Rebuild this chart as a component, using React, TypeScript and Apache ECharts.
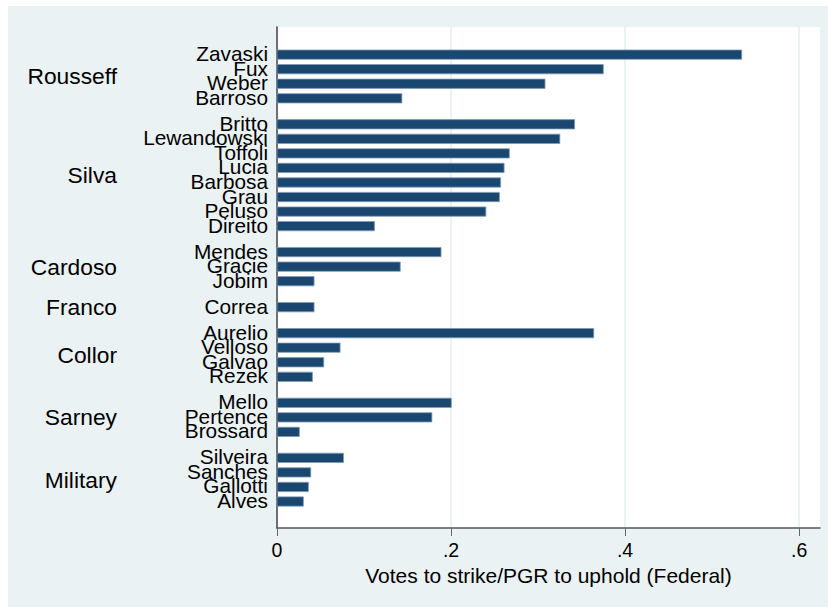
import React, { useEffect, useRef } from "react";
import * as echarts from "echarts";

// Appointing presidents, top to bottom
const presidents = ["Rousseff", "Silva", "Cardoso", "Franco", "Collor", "Sarney", "Military"];

// Justices appointed by each president
const rousseffJustices = ["Zavaski", "Fux", "Weber", "Barroso"];
const silvaJustices = ["Britto", "Lewandowski", "Toffoli", "Lucia", "Barbosa", "Grau", "Peluso", "Direito"];
const cardosoJustices = ["Mendes", "Gracie", "Jobim"];
const francoJustices = ["Correa"];
const collorJustices = ["Aurelio", "Velloso", "Galvao", "Rezek"];
const sarneyJustices = ["Mello", "Pertence", "Brossard"];
const militaryJustices = ["Silveira", "Sanches", "Gallotti", "Alves"];

// Share of votes to strike / PGR to uphold (federal laws)
const rousseffVotes = [0.534, 0.375, 0.308, 0.1435];
const silvaVotes = [0.342, 0.325, 0.267, 0.261, 0.257, 0.2556, 0.24, 0.112];
const cardosoVotes = [0.1885, 0.1416, 0.0426];
const francoVotes = [0.0426];
const collorVotes = [0.364, 0.0725, 0.0537, 0.0407];
const sarneyVotes = [0.2003, 0.178, 0.0257];
const militaryVotes = [0.0764, 0.0388, 0.0361, 0.0303];

const xTicks = [0, 0.2, 0.4, 0.6];
const xTitle = "Votes to strike/PGR to uphold (Federal)";

const justiceGroups = [
  rousseffJustices,
  silvaJustices,
  cardosoJustices,
  francoJustices,
  collorJustices,
  sarneyJustices,
  militaryJustices,
];
const voteGroups = [
  rousseffVotes,
  silvaVotes,
  cardosoVotes,
  francoVotes,
  collorVotes,
  sarneyVotes,
  militaryVotes,
];

const GROUP_GAP = 0.785; // extra space between president groups, in bar slots
const FONT = "'Liberation Sans', Arial, Helvetica, sans-serif";
const BAR = "#1A476F";

function buildRows() {
  const bars: [number, number, string][] = [];
  const groups: [number, string][] = [];
  let k = 0;
  justiceGroups.forEach((names, gi) => {
    const first = k + gi * GROUP_GAP;
    names.forEach((n, j) => {
      bars.push([voteGroups[gi][j], k + gi * GROUP_GAP, n]);
      k += 1;
    });
    const last = k - 1 + gi * GROUP_GAP;
    groups.push([(first + last) / 2, presidents[gi]]);
  });
  return { bars, groups, lastPos: k - 1 + (justiceGroups.length - 1) * GROUP_GAP };
}

export default function App() {
  const ref = useRef<HTMLDivElement>(null);

  useEffect(() => {
    if (!ref.current) return;
    const chart = echarts.init(ref.current, null, { renderer: "svg" });
    const { bars, groups, lastPos } = buildRows();

    chart.setOption({
      animation: false,
      backgroundColor: "#EAF2F3",
      grid: {
        left: 269,
        right: 8,
        top: 21,
        bottom: 79,
        show: true,
        backgroundColor: "#FFFFFF",
        borderWidth: 0,
      },
      xAxis: {
        type: "value",
        min: 0,
        max: 0.624,
        interval: 0.2,
        name: xTitle,
        nameLocation: "middle",
        nameGap: 35,
        nameTextStyle: { fontFamily: FONT, fontSize: 21, color: "#000" },
        axisLine: { show: true, onZero: false, lineStyle: { color: "#555", width: 1.5 } },
        axisTick: {
          show: true,
          length: 8,
          customValues: xTicks,
          lineStyle: { color: "#666", width: 1 },
        },
        axisLabel: {
          customValues: xTicks,
          margin: 12,
          fontFamily: FONT,
          fontSize: 19.5,
          color: "#000",
          formatter: (v: number) => (v === 0 ? "0" : String(Number(v.toFixed(2))).replace(/^0/, "")),
        },
        splitLine: { show: true, lineStyle: { color: "#E6EEF1", width: 1.5 } },
      },
      yAxis: {
        type: "value",
        inverse: true,
        min: -1.9,
        max: lastPos + 1.82,
        axisLine: { show: true, onZero: false, lineStyle: { color: "#444", width: 1.5 } },
        axisTick: { show: false },
        axisLabel: { show: false },
        splitLine: { show: false },
      },
      series: [
        {
          type: "custom",
          name: "bars",
          encode: { x: 0, y: 1 },
          data: bars.map((b) => [b[0], b[1]]),
          renderItem: (_params: any, api: any) => {
            const v = api.value(0);
            const p = api.value(1);
            const s = api.coord([0, p]);
            const e = api.coord([v, p]);
            const h = api.size([0, 0.64])[1];
            return {
              type: "rect",
              shape: { x: s[0], y: s[1] - h / 2, width: e[0] - s[0], height: h },
              style: { fill: BAR, stroke: "#7E9AB4", lineWidth: 0.8 },
            };
          },
          z: 2,
        },
        {
          type: "custom",
          name: "justices",
          encode: { x: 0, y: 1 },
          data: bars.map((b) => [0, b[1], b[2]]),
          renderItem: (params: any, api: any) => {
            const p = api.value(1);
            const c = api.coord([0, p]);
            return {
              type: "text",
              x: c[0] - 9,
              y: c[1] - 1,
              style: {
                text: bars[params.dataIndex][2],
                align: "right",
                verticalAlign: "middle",
                fontFamily: FONT,
                fontSize: 20.8,
                fill: "#000",
              },
            };
          },
          z: 3,
        },
        {
          type: "custom",
          name: "presidents",
          encode: { x: 0, y: 1 },
          data: groups.map((g) => [0, g[0]]),
          renderItem: (params: any, api: any) => {
            const p = api.value(1);
            const c = api.coord([0, p]);
            return {
              type: "text",
              x: c[0] - 160,
              y: c[1],
              style: {
                text: groups[params.dataIndex][1],
                align: "right",
                verticalAlign: "middle",
                fontFamily: FONT,
                fontSize: 22.8,
                fill: "#000",
              },
            };
          },
          z: 3,
        },
      ],
    });

    return () => chart.dispose();
  }, []);

  return (
    <div
      ref={ref}
      style={{ position: "absolute", left: 8, top: 6, width: 820, height: 601 }}
    />
  );
}
